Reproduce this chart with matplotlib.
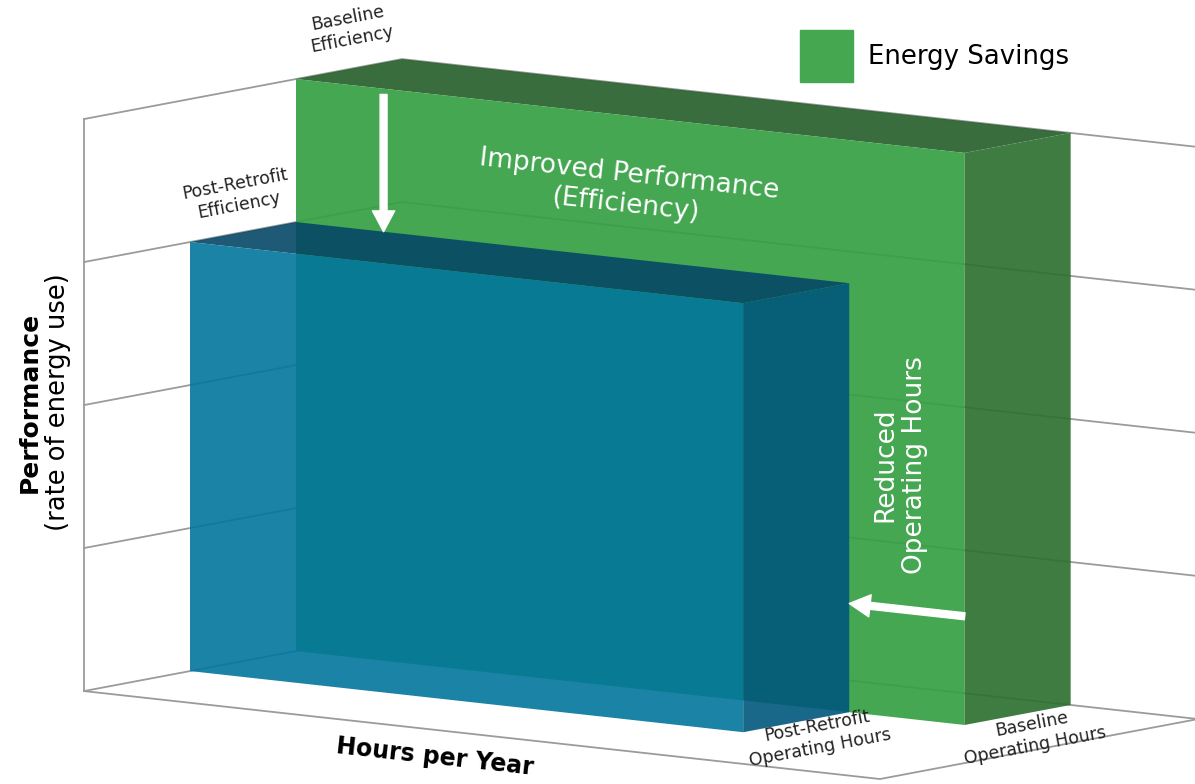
import matplotlib.pyplot as plt
import numpy as np
from matplotlib.colors import to_rgba
from matplotlib.patches import FancyArrowPatch, Patch
from mpl_toolkits.mplot3d import proj3d
from mpl_toolkits.mplot3d.art3d import Poly3DCollection

plt.rcParams['font.family'] = 'DejaVu Sans'

# axis extents: hours per year (x), depth rows (y), performance (z)
hours_max = 10.0
depth_max = 3.0
perf_max = 4.0
perf_grid = [1, 2, 3]

# the two blocks, front one first
series = ['Post-Retrofit', 'Baseline']
op_hours = [6.95, 8.4]
performance = [3.0, 4.0]
row_start = [1.0, 2.0]
row_depth = 1.0

# front, side, top colours and opacity of each block
face_colors = [['#02769C', '#01587C', '#054866'],
               ['#35A042', '#2D7131', '#29612D']]
face_alpha = [0.9, 0.92]
legend_green = '#45A851'
line_gray = '#9b9b9b'


class Arrow3D(FancyArrowPatch):
    def __init__(self, xs, ys, zs, **kw):
        super().__init__((0, 0), (0, 0), **kw)
        self._verts3d = xs, ys, zs

    def do_3d_projection(self, renderer=None):
        xs, ys, zs = proj3d.proj_transform(*self._verts3d, self.axes.M)
        self.set_positions((xs[0], ys[0]), (xs[1], ys[1]))
        return np.min(zs)


def box_faces(x1, y0, y1, z1):
    front = [(0, y0, 0), (x1, y0, 0), (x1, y0, z1), (0, y0, z1)]
    side = [(x1, y0, 0), (x1, y1, 0), (x1, y1, z1), (x1, y0, z1)]
    top = [(0, y0, z1), (x1, y0, z1), (x1, y1, z1), (0, y1, z1)]
    return [front, side, top]


fig = plt.figure(figsize=(11.95, 7.84), dpi=100)
# small square axes; the scene is scaled up with zoom and drawn unclipped
ax = fig.add_axes([0.2356, 0.0070, 0.5858, 0.8929], projection='3d',
                  computed_zorder=False)
ax.set_proj_type('ortho')
ax.view_init(elev=8.3, azim=-52.57)
ax.set_xlim(0, hours_max)
ax.set_ylim(0, depth_max)
ax.set_zlim(0, perf_max)
ax.set_box_aspect((1002.4, 523.2, 578.1), zoom=1.7611)
ax.set_axis_off()
M = ax.get_proj()


def label(x, y, z, s, along=None, **kw):
    # put a flat label at a 3D point, turned along one of the axes
    px, py, _ = proj3d.proj_transform(x, y, z, M)
    rot = 0.0
    if along is not None:
        qx, qy, _ = proj3d.proj_transform(*np.add((x, y, z), along), M)
        rot = np.degrees(np.arctan2(qy - py, qx - px))
    ax.text2D(px, py, s, rotation=rot, transform=ax.transData, **kw)


# walls, floor and gridlines
frame = [
    [(0, 0, 0), (0, 0, perf_max)],
    [(0, 0, perf_max), (0, depth_max, perf_max), (hours_max, depth_max, perf_max),
     (hours_max, depth_max, 0)],
    [(0, 0, 0), (0, depth_max, 0), (hours_max, depth_max, 0)],
    [(0, 0, 0), (hours_max, 0, 0), (hours_max, depth_max, 0)],
]
for z in perf_grid:
    frame.append([(0, 0, z), (0, depth_max, z), (hours_max, depth_max, z)])
for seg in frame:
    xs, ys, zs = zip(*seg)
    ax.plot(xs, ys, zs, color=line_gray, lw=1.3, zorder=1, clip_on=False)

# blocks: back (baseline) drawn before front (post-retrofit)
for i in [1, 0]:
    faces = box_faces(op_hours[i], row_start[i], row_start[i] + row_depth,
                      performance[i])
    cols = [to_rgba(c, face_alpha[i]) for c in face_colors[i]]
    pc = Poly3DCollection(faces, facecolors=cols, edgecolors='none',
                          linewidths=0, zorder=2 + (1 - i))
    pc.set_clip_on(False)
    ax.add_collection3d(pc)

# change arrows
arrow_kw = dict(arrowstyle='simple,head_length=1.5,head_width=1.6,tail_width=0.5',
                mutation_scale=10, color='white', shrinkA=0, shrinkB=0,
                zorder=4, clip_on=False)
ax.add_artist(Arrow3D([1.1, 1.1], [row_start[1]] * 2,
                      [performance[1] - 0.04, performance[0]], **arrow_kw))
ax.add_artist(Arrow3D([op_hours[1], op_hours[0]], [row_start[1]] * 2,
                      [0.76, 0.76], **arrow_kw))

X, Y, Z = (1, 0, 0), (0, 1, 0), (0, 0, 1)
small = dict(fontsize=12.5, color='#222222', ha='center', va='center',
             zorder=5, linespacing=1.3)
label(0, 2.51, 4.28, 'Baseline\nEfficiency', Y, **small)
label(0, 1.44, 3.27, 'Post-Retrofit\nEfficiency', Y, **small)
label(7.75, 1.11, 0, 'Post-Retrofit\nOperating Hours', Y, **small)
label(9.37, 1.92, 0, 'Baseline\nOperating Hours', Y, **small)

inside = dict(fontsize=19, color='white', ha='center', va='center', zorder=5)
label(4.16, 2.0, 3.48, 'Improved Performance\n(Efficiency)', X, **inside)
label(7.59, 2.0, 1.77, 'Reduced\nOperating Hours', Z, **inside)

label(5.55, -0.86, 0, 'Hours per Year', X, fontsize=17, fontweight='bold',
      ha='center', va='center', zorder=5)
fig.text(30 / 1195, 1 - 402 / 784, 'Performance', rotation=90, fontsize=18,
         fontweight='bold', ha='center', va='center')
fig.text(58 / 1195, 1 - 402 / 784, '(rate of energy use)', rotation=90,
         fontsize=18.5, ha='center', va='center')

fig.legend(handles=[Patch(color=legend_green)], labels=['Energy Savings'],
           loc='center left', bbox_to_anchor=(800 / 1195, 1 - 56 / 784),
           frameon=False, fontsize=18.7, handlelength=2.04, handleheight=2.68,
           handletextpad=0.58, borderpad=0, borderaxespad=0)

fig.savefig('out.png', dpi=100)
